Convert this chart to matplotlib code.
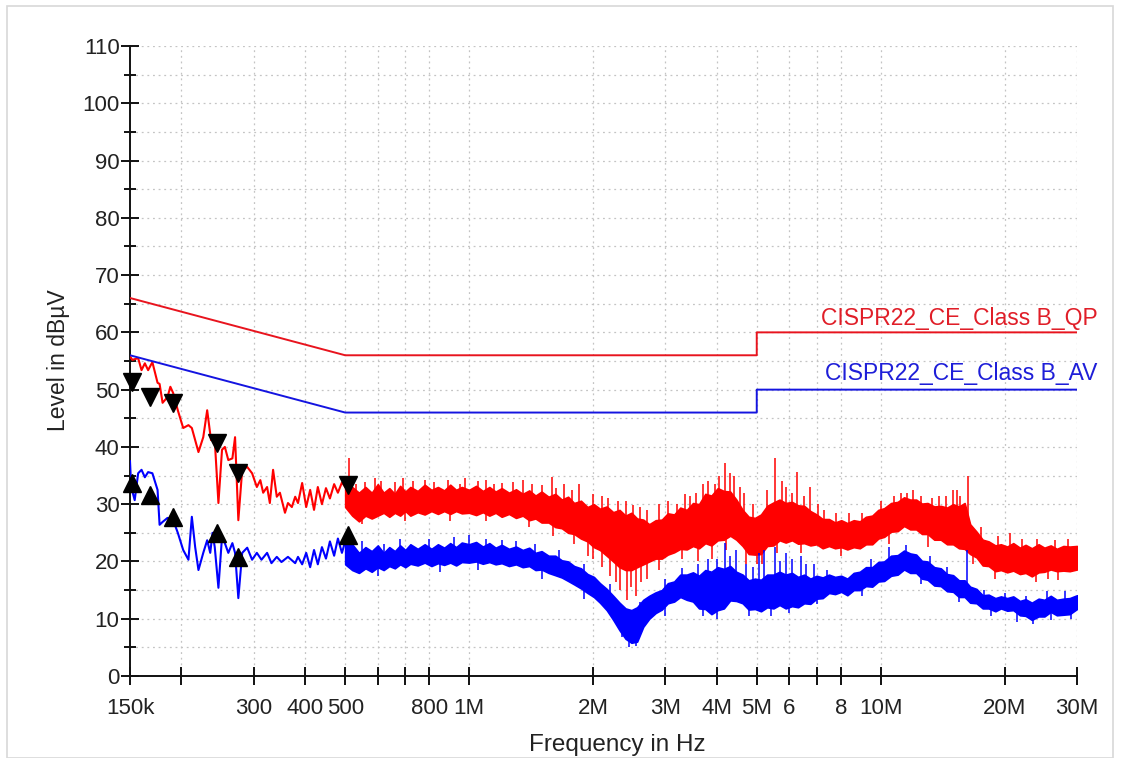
import numpy as np
import matplotlib
matplotlib.use("Agg")
import matplotlib.pyplot as plt
from matplotlib.patches import Rectangle

plt.rcParams['font.family'] = ['Liberation Sans', 'DejaVu Sans']

# ---------------- data (frequencies in MHz, levels in dBuV) ----------------
# limit lines
qp_limit_f = [0.15, 0.5, 5.0, 5.0, 30.0]
qp_limit_v = [66.0, 56.0, 56.0, 60.0, 60.0]
av_limit_f = [0.15, 0.5, 5.0, 5.0, 30.0]
av_limit_v = [56.0, 46.0, 46.0, 50.0, 50.0]

# low-frequency part of the red (peak) trace
red_low_f = [0.150, 0.152, 0.157, 0.160, 0.163, 0.166, 0.170, 0.175, 0.177, 0.180,
             0.185, 0.188, 0.191, 0.196, 0.202, 0.208, 0.212, 0.220, 0.226, 0.231,
             0.236, 0.241, 0.246, 0.251, 0.255, 0.260, 0.266, 0.270, 0.275, 0.281,
             0.289, 0.297, 0.305, 0.311, 0.316, 0.323, 0.328, 0.334, 0.341, 0.347,
             0.357, 0.363, 0.371, 0.378, 0.384, 0.393, 0.402, 0.411, 0.420, 0.429,
             0.439, 0.449, 0.459, 0.470, 0.480, 0.491, 0.500]
red_low_v = [55.8, 55.2, 55.5, 53.4, 54.6, 53.4, 54.8, 51.2, 51.0, 47.7,
             48.7, 50.5, 49.4, 46.4, 43.3, 43.8, 43.3, 39.1, 41.7, 46.4,
             41.2, 41.2, 30.2, 39.5, 40.0, 37.7, 38.0, 41.7, 27.2, 36.0,
             36.5, 35.4, 33.0, 34.2, 32.0, 33.0, 30.2, 36.0, 31.3, 32.0,
             28.5, 30.2, 29.5, 31.3, 30.2, 33.7, 29.5, 32.5, 29.0, 33.0,
             30.0, 32.8, 31.0, 33.5, 32.0, 33.8, 33.0]

# low-frequency part of the blue (average) trace
blue_low_f = [0.150, 0.151, 0.154, 0.157, 0.160, 0.163, 0.166, 0.170, 0.175, 0.177,
              0.180, 0.185, 0.191, 0.196, 0.202, 0.208, 0.212, 0.216, 0.220, 0.226,
              0.231, 0.235, 0.238, 0.241, 0.246, 0.251, 0.255, 0.260, 0.266, 0.270,
              0.275, 0.281, 0.289, 0.297, 0.305, 0.313, 0.323, 0.331, 0.341, 0.350,
              0.363, 0.378, 0.384, 0.393, 0.402, 0.411, 0.420, 0.429, 0.439, 0.449,
              0.459, 0.470, 0.480, 0.491, 0.500]
blue_low_v = [37.5, 33.0, 30.7, 35.4, 36.0, 34.7, 35.6, 35.4, 32.5, 26.4,
              26.9, 27.6, 27.2, 25.0, 22.0, 20.3, 27.8, 22.5, 18.5, 21.5,
              23.7, 21.5, 25.0, 22.5, 15.4, 24.3, 23.2, 21.5, 23.2, 21.5,
              13.6, 21.5, 22.4, 20.3, 21.5, 20.3, 21.5, 19.7, 20.8, 19.9,
              20.8, 19.7, 20.8, 19.5, 21.5, 19.0, 22.0, 19.5, 22.5, 20.5,
              23.5, 21.0, 24.0, 21.5, 23.5]

# dense part of the sweep: upper / lower envelope of the noise band
band_f = [0.50, 0.52, 0.54, 0.56, 0.58, 0.60, 0.62, 0.64, 0.66, 0.68,
          0.70, 0.72, 0.75, 0.78, 0.81, 0.84, 0.87, 0.90, 0.93, 0.96,
          1.00, 1.04, 1.08, 1.12, 1.16, 1.20, 1.25, 1.30, 1.35, 1.40,
          1.45, 1.50, 1.56, 1.62, 1.68, 1.74, 1.80, 1.87, 1.94, 2.01,
          2.08, 2.16, 2.24, 2.32, 2.40, 2.48, 2.56, 2.65, 2.74, 2.84,
          2.94, 3.04, 3.15, 3.26, 3.38, 3.50, 3.62, 3.75, 3.88, 4.02,
          4.16, 4.31, 4.46, 4.62, 4.78, 4.95, 5.12, 5.30, 5.49, 5.68,
          5.88, 6.09, 6.30, 6.52, 6.75, 6.99, 7.23, 7.49, 7.75, 8.02,
          8.30, 8.60, 8.90, 9.21, 9.54, 9.87, 10.2, 10.6, 11.0, 11.4,
          11.8, 12.2, 12.6, 13.0, 13.5, 14.0, 14.5, 15.0, 15.5, 16.0,
          16.5, 17.1, 17.7, 18.3, 19.0, 19.6, 20.3, 21.0, 21.8, 22.5,
          23.3, 24.2, 25.0, 25.9, 26.8, 27.8, 28.8, 30.0]

red_hi = [34.5, 33.0, 32.0, 33.0, 32.0, 33.5, 32.0, 32.8, 31.8, 33.2,
          32.2, 33.0, 32.3, 33.4, 32.5, 33.0, 32.4, 33.4, 32.5, 33.0,
          32.5, 33.2, 32.3, 33.0, 32.2, 32.8, 32.0, 32.6, 31.8, 32.4,
          31.5, 32.2, 31.3, 31.8, 30.8, 31.3, 30.2, 30.6, 29.5, 30.0,
          29.2, 29.6, 28.6, 29.0, 28.0, 28.5, 27.5, 27.3, 26.5, 27.2,
          27.3, 28.4, 28.2, 29.4, 29.0, 30.2, 30.0, 31.8, 31.5, 32.8,
          32.3, 32.2, 30.8, 29.0, 27.8, 27.6, 28.2, 29.7, 30.3, 30.8,
          30.2, 30.4, 29.8, 29.7, 28.8, 28.2, 27.4, 27.4, 26.8, 27.2,
          26.7, 27.2, 27.0, 27.8, 28.0, 29.0, 29.3, 30.2, 30.4, 31.2,
          30.8, 30.8, 30.1, 30.2, 29.6, 29.7, 29.4, 30.0, 29.6, 30.2,
          26.5, 25.2, 23.8, 23.5, 22.8, 23.0, 22.6, 23.2, 22.4, 22.9,
          22.3, 23.0, 22.4, 22.8, 22.2, 22.7, 22.6, 22.7]
red_lo = [29.5, 28.0, 27.0, 28.0, 27.5, 28.0, 28.5, 27.8, 28.5, 28.0,
          28.8, 28.0, 28.6, 28.2, 28.8, 28.3, 28.8, 28.3, 28.8, 28.4,
          28.5, 28.1, 28.6, 28.0, 28.5, 27.8, 28.3, 27.6, 28.0, 27.2,
          27.5, 26.8, 26.8, 26.0, 25.8, 25.0, 24.8, 24.0, 23.5, 22.5,
          22.0, 21.0, 20.0, 19.0, 18.5, 18.5, 19.0, 19.5, 20.0, 20.5,
          20.5, 21.2, 21.6, 22.2, 22.1, 22.7, 22.3, 23.2, 22.8, 23.7,
          23.8, 24.5, 23.8, 22.7, 21.3, 21.2, 21.3, 22.7, 22.8, 23.7,
          23.3, 23.7, 23.1, 23.2, 22.8, 23.0, 22.3, 22.7, 22.3, 22.5,
          22.1, 22.5, 22.3, 23.0, 23.0, 24.0, 24.3, 25.2, 25.3, 26.2,
          25.6, 25.6, 24.8, 24.8, 23.8, 23.8, 23.0, 23.0, 22.3, 22.2,
          21.3, 20.7, 19.3, 19.2, 18.3, 18.5, 18.1, 18.4, 17.8, 18.0,
          17.4, 18.1, 18.2, 18.6, 18.3, 18.4, 18.3, 18.6]

blue_hi = [24.5, 23.0, 21.5, 22.5, 21.8, 22.8, 21.5, 22.5, 21.8, 22.8,
           22.0, 23.0, 22.2, 23.0, 22.2, 23.0, 22.4, 23.2, 22.5, 23.3,
           23.0, 23.4, 22.6, 23.2, 22.4, 22.9, 22.2, 22.6, 22.0, 22.4,
           21.5, 21.8, 21.0, 21.0, 20.2, 20.0, 19.2, 18.8, 17.8, 17.3,
           16.2, 15.2, 14.0, 12.8, 11.8, 11.5, 12.0, 13.3, 14.0, 14.6,
           15.0, 16.2, 16.5, 17.7, 17.7, 18.1, 17.5, 18.5, 18.2, 19.0,
           18.7, 19.2, 18.2, 17.7, 16.7, 17.0, 16.8, 17.7, 17.7, 18.2,
           17.7, 18.0, 17.3, 17.7, 17.0, 17.5, 17.2, 17.7, 17.3, 17.5,
           17.0, 18.0, 18.2, 19.0, 19.0, 19.9, 20.0, 21.0, 21.1, 21.9,
           21.4, 21.2, 20.1, 20.0, 19.0, 18.8, 17.8, 17.6, 16.7, 16.7,
           15.6, 15.2, 14.1, 14.2, 13.6, 13.9, 13.6, 13.9, 13.1, 13.4,
           12.8, 13.5, 13.3, 14.0, 13.3, 13.5, 13.6, 14.1]
blue_lo = [19.5, 18.5, 18.0, 18.8, 18.2, 19.0, 18.5, 19.2, 18.8, 19.5,
           19.0, 19.6, 19.3, 19.8, 19.2, 19.7, 19.4, 19.8, 19.3, 19.9,
           19.8, 20.0, 19.6, 19.9, 19.5, 19.7, 19.2, 19.5, 19.0, 19.2,
           18.5, 18.6, 18.0, 17.6, 17.2, 16.6, 16.0, 15.3, 14.5, 13.8,
           12.8, 11.5, 9.8, 8.0, 6.5, 5.8, 6.0, 8.6, 10.0, 11.0,
           11.6, 12.7, 13.0, 13.8, 13.3, 13.0, 11.8, 11.7, 10.8, 11.5,
           11.8, 13.2, 13.1, 12.7, 11.6, 11.7, 11.3, 12.0, 11.8, 12.4,
           11.8, 12.2, 12.0, 12.7, 12.6, 13.5, 13.6, 14.5, 14.3, 14.7,
           14.1, 15.0, 15.0, 15.7, 15.6, 16.5, 16.6, 17.5, 17.7, 18.6,
           18.0, 18.0, 17.0, 16.8, 15.8, 15.7, 14.8, 14.7, 13.8, 13.8,
           12.8, 12.7, 11.8, 11.8, 11.3, 11.8, 11.4, 11.5, 10.6, 10.5,
           9.8, 10.4, 10.4, 11.2, 10.6, 10.7, 10.8, 11.7]

# narrow spikes rising above the red band
red_spike_f = [0.51, 0.53, 0.56, 0.59, 0.61, 0.66, 0.69, 0.73, 0.78, 0.82,
               0.89, 0.95, 0.98, 1.05, 1.10, 1.15, 1.20, 1.28, 1.35, 1.42,
               1.50, 1.59, 1.63, 1.70, 1.78, 1.85, 2.00, 2.10, 2.18, 2.30,
               2.40, 2.50, 2.60, 2.70, 2.90, 3.05, 3.20, 3.35, 3.45, 3.55,
               3.70, 3.80, 3.95, 4.05, 4.19, 4.30, 4.40, 4.55, 4.65, 4.90,
               5.30, 5.54, 5.75, 5.90, 6.10, 6.27, 6.50, 6.75, 7.05, 7.30,
               7.80, 8.40, 9.00, 10.0, 10.8, 11.2, 11.6, 12.0, 12.5, 13.3,
               13.9, 14.4, 15.0, 15.3, 15.6, 16.3, 17.5, 19.3, 20.6, 22.0,
               24.0, 26.5, 28.5]
red_spike_v = [38.0, 33.5, 33.8, 34.5, 34.0, 33.8, 34.5, 34.0, 34.3, 33.8,
               34.2, 33.6, 34.5, 34.0, 34.3, 33.5, 33.7, 33.8, 34.2, 33.5,
               33.3, 34.8, 32.8, 33.5, 32.5, 33.5, 31.8, 31.5, 31.0, 30.5,
               30.5, 29.8, 29.5, 29.0, 30.0, 30.5, 30.0, 31.8, 31.5, 32.0,
               33.5, 34.0, 33.5, 35.0, 37.2, 35.5, 35.0, 33.0, 32.0, 30.0,
               32.5, 38.0, 34.0, 33.0, 32.0, 35.6, 31.5, 33.0, 30.0, 29.0,
               28.5, 28.5, 28.5, 30.5, 31.5, 32.0, 32.0, 32.5, 31.5, 31.0,
               31.5, 31.5, 32.5, 32.5, 31.5, 35.0, 26.0, 24.5, 25.0, 24.0,
               24.0, 23.8, 24.0]
# narrow dips below the red band
red_dip_f = [0.55, 0.70, 0.90, 1.10, 1.40, 1.60, 1.80, 1.95, 2.00, 2.10,
             2.20, 2.28, 2.33, 2.42, 2.47, 2.55, 2.62, 2.70, 2.90, 3.30,
             3.60, 3.90, 4.20, 4.70, 5.00, 5.15, 5.60, 6.40, 8.00, 10.5,
             13.0, 16.8, 19.0, 23.8, 25.5, 27.0]
red_dip_v = [26.5, 27.0, 27.0, 27.0, 26.0, 24.5, 23.0, 21.0, 20.5, 19.0,
             17.5, 16.5, 15.0, 13.3, 15.5, 14.0, 16.5, 17.0, 18.5, 20.5,
             20.0, 20.5, 22.0, 19.5, 19.5, 19.5, 21.5, 21.5, 21.0, 23.0,
             22.5, 19.5, 17.0, 16.5, 17.0, 16.8]

# narrow spikes / dips of the blue band
blue_spike_f = [0.51, 0.55, 0.62, 0.68, 0.80, 0.92, 1.00, 1.10, 1.20, 1.30,
                1.45, 1.65, 1.90, 2.20, 2.60, 3.00, 3.30, 3.60, 3.80, 4.00,
                4.19, 4.30, 4.45, 4.70, 4.90, 5.05, 5.20, 5.54, 5.70, 5.90,
                6.10, 6.40, 6.60, 6.90, 7.40, 9.50, 10.5, 11.5, 13.2, 14.5,
                16.2, 17.8, 20.0, 22.5, 25.3, 28.0]
blue_spike_v = [24.6, 23.5, 23.0, 24.0, 24.0, 24.2, 24.6, 24.0, 23.8, 23.5,
                23.0, 22.0, 19.5, 16.0, 13.0, 17.0, 18.8, 19.5, 20.5, 20.5,
                23.2, 21.0, 22.0, 19.5, 19.0, 21.5, 22.0, 22.5, 20.0, 21.5,
                20.5, 21.0, 19.5, 19.5, 18.5, 20.5, 22.5, 22.8, 21.0, 19.0,
                22.0, 15.0, 14.5, 14.0, 14.8, 14.8]
blue_dip_f = [0.60, 0.85, 1.05, 1.50, 1.90, 2.35, 2.45, 2.55, 3.00, 3.70,
              4.00, 4.80, 5.40, 6.00, 7.00, 9.00, 12.5, 15.5, 18.5, 21.5,
              23.5, 26.0, 29.0]
blue_dip_v = [17.5, 18.2, 18.5, 17.0, 13.5, 6.8, 5.0, 5.2, 10.5, 10.5,
              10.0, 10.5, 10.5, 11.0, 12.5, 14.0, 16.0, 13.0, 10.5, 9.5,
              9.0, 9.8, 10.0]

# final-measurement markers
qp_mark_f = [0.1517, 0.168, 0.191, 0.244, 0.274, 0.508]
qp_mark_v = [51.3, 48.7, 47.6, 40.7, 35.4, 33.3]
av_mark_f = [0.1517, 0.168, 0.191, 0.244, 0.274, 0.508]
av_mark_v = [33.7, 31.6, 27.8, 25.0, 20.8, 24.6]

tick_pos = [0.15, 0.2, 0.3, 0.4, 0.5, 0.6, 0.7, 0.8, 1, 2, 3, 4, 5, 6, 7, 8, 10, 20, 30]
tick_lab = ['150k', '', '300', '400', '500', '', '', '800', '1M', '2M', '3M', '4M',
            '5M', '6', '', '8', '10M', '20M', '30M']

qp_label = 'CISPR22_CE_Class B_QP'
av_label = 'CISPR22_CE_Class B_AV'

# ---------------- drawing ----------------
RED = '#ff0000'
BLUE = '#0000ff'
W, H = 1121, 758
fig = plt.figure(figsize=(W / 100, H / 100), dpi=100)
fig.patch.set_facecolor('white')
fig.patches.append(Rectangle((7 / W, 0), (1113 - 7) / W, (758 - 6) / H,
                             transform=fig.transFigure, fill=False,
                             ec='#d8d8d8', lw=1.2))

ax = fig.add_axes([130 / W, 1 - 676 / H, (1077 - 130) / W, (676 - 46) / H])
ax.set_xscale('log')
ax.set_xlim(0.15, 30)
ax.set_ylim(0, 110)

for s in ['top', 'right']:
    ax.spines[s].set_visible(False)
for s in ['left', 'bottom']:
    ax.spines[s].set_linewidth(1.4)
    ax.spines[s].set_color('#111111')

ax.set_xticks(tick_pos)
ax.set_xticklabels(tick_lab)
ax.xaxis.set_minor_locator(matplotlib.ticker.NullLocator())
ax.set_yticks(np.arange(0, 111, 10))
ax.set_yticks(np.arange(5, 110, 10), minor=True)
ax.tick_params(axis='both', which='major', direction='inout', length=13,
               width=1.4, labelsize=16, colors='#111111', labelcolor='#222222')
ax.tick_params(axis='x', which='major', pad=9)
ax.tick_params(axis='y', which='major', pad=1)
ax.tick_params(axis='y', which='minor', direction='inout', length=9, width=1.4,
               colors='#111111')

gridkw = dict(color='#c4c4c4', lw=0.9, ls=(0, (1.5, 3.0)), zorder=0)
for yv in range(5, 111, 5):
    ax.axhline(yv, **gridkw)
for xv in tick_pos[1:]:
    ax.axvline(xv, **gridkw)

lf = np.log10(band_f)

# red peak trace
ax.plot(red_low_f, red_low_v, color=RED, lw=1.5, zorder=3)
ax.fill_between(band_f, red_lo, red_hi, color=RED, lw=1.2, zorder=3)
rb_hi = np.interp(np.log10(red_spike_f), lf, red_hi) - 1.0
ax.vlines(red_spike_f, rb_hi, red_spike_v, color=RED, lw=1.1, zorder=3)
rb_lo = np.interp(np.log10(red_dip_f), lf, red_lo) + 1.0
ax.vlines(red_dip_f, red_dip_v, rb_lo, color=RED, lw=1.1, zorder=3)

# blue average trace
ax.plot(blue_low_f, blue_low_v, color=BLUE, lw=1.5, zorder=4)
ax.fill_between(band_f, blue_lo, blue_hi, color=BLUE, lw=1.2, zorder=4)
bb_hi = np.interp(np.log10(blue_spike_f), lf, blue_hi) - 1.0
ax.vlines(blue_spike_f, bb_hi, blue_spike_v, color=BLUE, lw=1.1, zorder=4)
bb_lo = np.interp(np.log10(blue_dip_f), lf, blue_lo) + 1.0
ax.vlines(blue_dip_f, blue_dip_v, bb_lo, color=BLUE, lw=1.1, zorder=4)

# limit lines
ax.plot(qp_limit_f, qp_limit_v, color='#e8141e', lw=1.4, zorder=5)
ax.plot(av_limit_f, av_limit_v, color='#1414e0', lw=1.4, zorder=5)
ax.text(33.6, 62.4, qp_label, color='#e01e28', fontsize=16.5, ha='right',
        va='center', clip_on=False)
ax.text(33.6, 52.9, av_label, color='#1e1ed8', fontsize=16.5, ha='right',
        va='center', clip_on=False)

# markers
ax.plot(qp_mark_f, qp_mark_v, 'v', color='black', ms=13, zorder=6, clip_on=False)
ax.plot(av_mark_f, av_mark_v, '^', color='black', ms=13, zorder=6, clip_on=False)

fig.text(617 / W, 1 - 745 / H, 'Frequency in Hz', fontsize=17.5, ha='center',
         va='center', color='#222222')
fig.text(59 / W, 1 - 360 / H, 'Level in dBµV', fontsize=16.5, ha='center',
         va='center', rotation=90, color='#222222')

fig.savefig('out.png', dpi=100, facecolor='white')
